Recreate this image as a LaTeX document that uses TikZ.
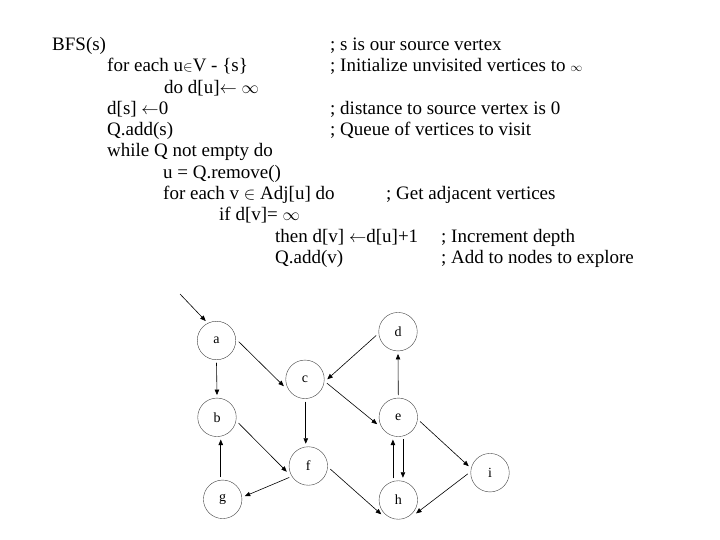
\documentclass[tikz,border=0pt]{standalone}
\usepackage{fontspec}
\setmainfont{Liberation Serif}
\usetikzlibrary{arrows.meta}
\begin{document}
\begin{tikzpicture}[x=1pt,y=-1pt,
  code/.style={anchor=base west,inner sep=0pt,font=\fontsize{19}{19}\selectfont},
  vtx/.style={circle,draw=black!75,line width=0.4pt,minimum size=38.5pt,inner sep=0pt,outer sep=3pt,font=\fontsize{14}{14}\selectfont},
  edge/.style={line width=0.6pt,-{Triangle[length=5.5pt,width=4.5pt]}}]
\useasboundingbox (0,0) rectangle (720,540);
% pseudo code
\node[code] (l0) at (52,50.5) {BFS(s)};
\node[code] (l1) at (107,71.8) {for each u{\fontsize{14}{14}\selectfont$\in$}V - \{s\}};
\node[code] (l2) at (164,93.1) {do d[u]$\leftarrow$ $\infty$};
\node[code] (l3) at (107,114.4) {d[s] $\leftarrow$0};
\node[code] (l4) at (107,135.7) {Q.add(s)};
\node[code] (l5) at (107,157) {while Q not empty do};
\node[code] (l6) at (163,178.3) {u = Q.remove()};
\node[code] (l7) at (163,199.6) {for each v $\in$ Adj[u] do};
\node[code] (l8) at (219,220.9) {if d[v]= $\infty$};
\node[code] (l9) at (275,242.2) {then d[v] $\leftarrow$d[u]+1};
\node[code] (l10) at (275,263.5) {Q.add(v)};
% comments
\node[code] (c0) at (330,50.5) {; s is our source vertex};
\node[code] (c1) at (330,71.8) {; Initialize unvisited vertices to {\fontsize{13}{13}\selectfont$\infty$}};
\node[code] (c3) at (330,114.4) {; distance to source vertex is 0};
\node[code] (c4) at (330,135.7) {; Queue of vertices to visit};
\node[code] (c7) at (386,199.6) {; Get adjacent vertices};
\node[code] (c9) at (441,242.2) {; Increment depth};
\node[code] (c10) at (441,263.5) {; Add to nodes to explore};
% graph
\node[vtx] (a) at (216.5,340.5) {a};
\node[vtx] (d) at (398,331.7) {d};
\node[vtx] (c) at (305,379.3) {c};
\node[vtx] (b) at (217,417.3) {b};
\node[vtx] (e) at (398.3,417.3) {e};
\node[vtx] (f) at (308.3,466) {f};
\node[vtx] (g) at (222.7,499.3) {g};
\node[vtx] (h) at (398.3,500) {h};
\node[vtx] (i) at (490,472.7) {i};
\coordinate (src) at (180,294);
\draw[edge] (src) -- (a.119);
\draw[edge] (a.south) -- (b.north);
\draw[edge] (a.-3) -- (c.198);
\draw[edge] (d.190) -- (c.0);
\draw[edge] (e.north) -- (d.south);
\draw[edge] (c.-10) -- (e.198);
\draw[edge] (c.-88) -- (c.-88 |- f.north);
\draw[edge] (b.-15) -- (f.195);
\draw[edge] (g.95) -- (g.95 |- b.south);
\draw[edge] (f.211) -- (g.8);
\draw[edge] (f.-8) -- (h.220);
\draw[edge] (e.-78) -- (e.-78 |- h.north);
\draw[edge] (h.104) -- (h.104 |- e.south);
\draw[edge] (e.-11) -- (i.163);
\draw[edge] (i.183) -- (h.-37);
\end{tikzpicture}
\end{document}
